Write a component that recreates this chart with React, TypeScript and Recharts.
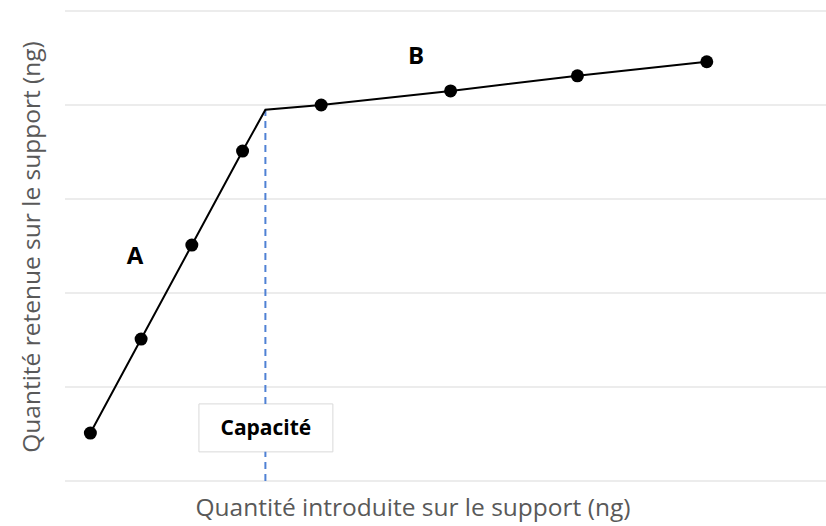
import { LineChart, Line, XAxis, YAxis, CartesianGrid, ReferenceLine, ReferenceArea, ReferenceDot } from 'recharts';

const introduced = [0.5, 1.5, 2.5, 3.5, 3.95, 5.05, 7.6, 10.1, 12.65];
const retained = [0.51, 1.51, 2.51, 3.51, 3.95, 4.0, 4.15, 4.31, 4.46];
const yTicks = [0, 1, 2, 3, 4, 5];
const capacity = 3.95;
const boxX = [2.64, 5.28];
const boxY = [0.31, 0.82];

const data = introduced.map((x, i) => ({ x, y: retained[i] }));

const font = '"Open Sans", "Noto Sans", sans-serif';

const renderDot = (props: any) => {
    const { cx, cy, index } = props;
    if (introduced[index] === capacity) return <g key={index} />;
    return <circle key={index} cx={cx} cy={cy} r={6.5} fill="#000" />;
};

const emptyTick = () => <g />;

export default function App() {
    return (
        <div style={styles.page}>
            <LineChart width={826} height={526} data={data} margin={{ top: 11, right: 0, left: 65, bottom: 45 }}>
                <CartesianGrid vertical={false} stroke="#d9d9d9" />
                <XAxis
                    dataKey="x"
                    type="number"
                    domain={[0, 15]}
                    tick={false}
                    tickLine={false}
                    axisLine={{ stroke: '#d9d9d9' }}
                    height={0}
                />
                <YAxis
                    type="number"
                    domain={[0, 5]}
                    ticks={yTicks}
                    tick={emptyTick}
                    tickLine={false}
                    axisLine={false}
                    width={0}
                />
                <ReferenceLine
                    segment={[{ x: capacity, y: 0 }, { x: capacity, y: boxY[0] }]}
                    stroke="#4f81d4"
                    strokeWidth={2}
                    strokeDasharray="7 5"
                />
                <ReferenceLine
                    segment={[{ x: capacity, y: boxY[1] }, { x: capacity, y: capacity }]}
                    stroke="#4f81d4"
                    strokeWidth={2}
                    strokeDasharray="7 5"
                />
                <ReferenceArea
                    x1={boxX[0]}
                    x2={boxX[1]}
                    y1={boxY[0]}
                    y2={boxY[1]}
                    fill="#fff"
                    fillOpacity={1}
                    stroke="#d9d9d9"
                    label={{ value: 'Capacité', fill: '#000', fontSize: 21, fontWeight: 700, fontFamily: font }}
                />
                <Line
                    dataKey="y"
                    stroke="#000"
                    strokeWidth={2}
                    dot={renderDot}
                    activeDot={false}
                    isAnimationActive={false}
                />
                <ReferenceDot x={1.38} y={2.4} r={0} label={{ value: 'A', fill: '#000', fontSize: 24, fontWeight: 700, fontFamily: font }} />
                <ReferenceDot x={6.92} y={4.53} r={0} label={{ value: 'B', fill: '#000', fontSize: 24, fontWeight: 700, fontFamily: font }} />
                <text x={413} y={516} textAnchor="middle" fill="#595959" fontSize={24.5} fontFamily={font}>
                    Quantité introduite sur le support (ng)
                </text>
                <text
                    x={0}
                    y={0}
                    transform="translate(30, 247) rotate(-90)"
                    textAnchor="middle"
                    dominantBaseline="central"
                    fill="#595959"
                    fontSize={24.5}
                    fontFamily={font}
                >
                    Quantité retenue sur le support (ng)
                </text>
            </LineChart>
        </div>
    );
}

const styles: Record<string, React.CSSProperties> = {
    page: {
        position: 'absolute',
        left: 0,
        top: 0,
        width: 826,
        height: 526,
        background: '#fff',
    },
};
